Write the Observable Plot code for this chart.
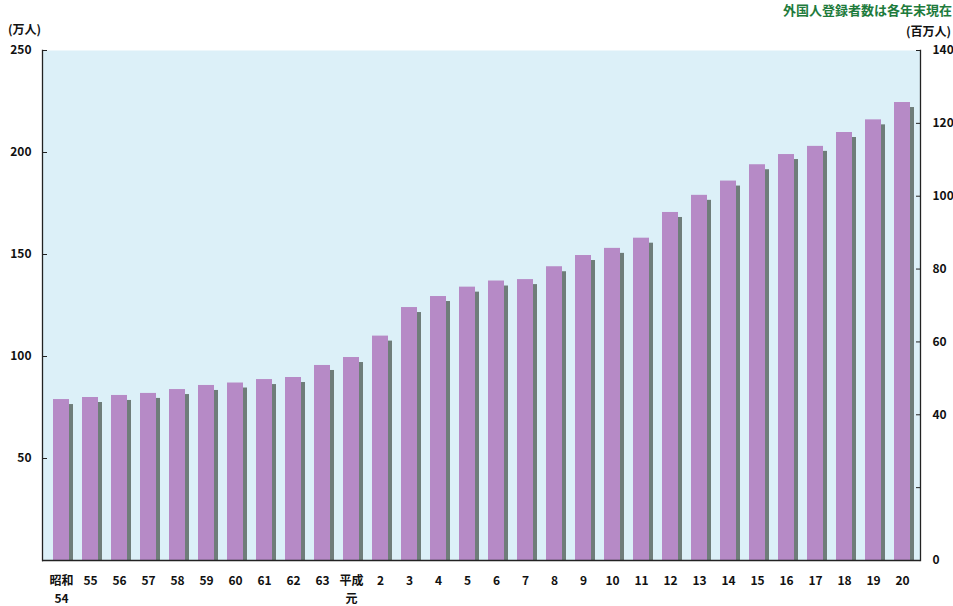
<!DOCTYPE html>
<html>
<head>
<meta charset="utf-8">
<script src="https://cdn.jsdelivr.net/npm/d3@7"></script>
<script src="https://cdn.jsdelivr.net/npm/@observablehq/plot@0.6"></script>
<style>
  html, body { margin: 0; padding: 0; background: #fff; overflow: hidden; }
  #wrap { position: relative; width: 953px; height: 606px; font-family: "Noto Sans CJK JP", "Noto Sans", sans-serif; }
  .lbl { position: absolute; font-weight: bold; font-size: 12px; color: #111; white-space: nowrap; }
  #note { right: 1px; top: 0px; color: #1e7b3c; font-size: 13px; }
  #unitL { left: 8px; top: 20px; }
  #unitR { right: 2px; top: 22px; }
  #chart { position: absolute; left: 0; top: 0; }
</style>
</head>
<body>
<div id="wrap">
  <div id="chart"></div>
  <div class="lbl" id="note">外国人登録者数は各年末現在</div>
  <div class="lbl" id="unitL">(万人)</div>
  <div class="lbl" id="unitR">(百万人)</div>
</div>
<script>
// Year categories (和暦)
const years = ["昭和\n54","55","56","57","58","59","60","61","62","63",
  "平成\n元","2","3","4","5","6","7","8","9","10","11","12","13","14","15","16","17","18","19","20"];
// Registered foreigners (万人)
const foreigners = [78.9,79.9,80.9,81.9,83.8,85.8,87.0,88.7,89.7,95.6,
  99.5,110.0,124.0,129.4,134.0,137.0,137.7,144.0,149.5,153.0,158.0,170.6,179.0,186.0,194.0,199.0,203.0,209.8,216.0,224.5];
// Left axis ticks (万人)
const leftTicks = [50,100,150,200,250];
// Right axis ticks (百万人) and labels
const rightTicks = [0,20,40,60,80,100,120,140];
const rightLabels = ["0","","40","60","80","100","120","140"];
const leftMax = 250, rightMax = 140;

const data = years.map((y, i) => ({year: y, value: foreigners[i]}));
const rightData = rightTicks.map((t, i) => ({pos: t * leftMax / rightMax, label: rightLabels[i]}));

const barColor = "#b68ac6";
const shadowColor = "#6f7d7a";
const bg = "#dcf0f8";
const font = "'Noto Sans CJK JP', 'Noto Sans', sans-serif";

const chart = Plot.plot({
  width: 953,
  height: 606,
  marginLeft: 42,
  marginRight: 33,
  marginTop: 50,
  marginBottom: 46,
  style: {fontFamily: font, fontSize: "12px", fontWeight: "bold", color: "#111", background: "transparent"},
  x: {domain: years, paddingInner: 0.45, paddingOuter: 0.225, axis: null},
  y: {domain: [0, leftMax], axis: null},
  marks: [
    Plot.frame({fill: bg, stroke: "none"}),
    // 3D shadow behind bars
    Plot.barY(data, {x: "year", y: "value", fill: shadowColor, dx: 4, dy: 5, clip: true}),
    Plot.barY(data, {x: "year", y: "value", fill: barColor}),
    // left axis
    Plot.axisY(leftTicks, {anchor: "left", label: null, tickSize: -5, tickPadding: 16, fontWeight: "bold", fontSize: 12, stroke: "#222"}),
    // right axis
    Plot.axisY(rightData.map(d => d.pos), {anchor: "right", label: null, tickSize: -5, tickPadding: 17,
      tickFormat: v => rightData.find(d => Math.abs(d.pos - v) < 1e-6).label, fontWeight: "bold", fontSize: 12, stroke: "#222"}),
    Plot.frame({anchor: "left", stroke: "#222", strokeWidth: 1.3}),
    Plot.frame({anchor: "right", stroke: "#222", strokeWidth: 1.3}),
    Plot.ruleY([0], {stroke: "#222", strokeWidth: 1.3}),
    // x labels
    Plot.text(years, {x: d => d, frameAnchor: "bottom", dy: 12, lineAnchor: "top", lineHeight: 1.5,
      fontWeight: "bold", fontSize: 12, fill: "#111"})
  ]
});
document.getElementById("chart").appendChild(chart);
</script>
</body>
</html>
